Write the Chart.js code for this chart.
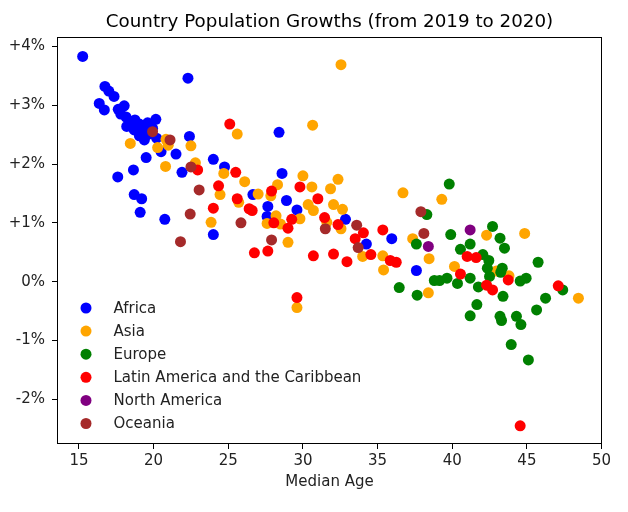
<!DOCTYPE html>
<html>
<head>
<meta charset="utf-8">
<script src="https://cdn.jsdelivr.net/npm/chart.js@4"></script>
<style>
  html, body { margin: 0; padding: 0; background: #fff; }
  #wrap { width: 628px; height: 512px; }
</style>
</head>
<body>
<div id="wrap"><canvas id="popChart" width="628" height="512"></canvas></div>
<script>
// median age vs population growth (%)
const regions = ["Africa", "Asia", "Europe", "Latin America and the Caribbean", "North America", "Oceania"];
const regionColors = ["#0000ff", "#ffa500", "#008000", "#ff0000", "#800080", "#a52a2a"];

const africa = [
  [15.25, 3.83], [22.3, 3.46], [16.74, 3.32], [17.0, 3.24], [17.35, 3.15], [16.36, 3.03], [16.7, 2.92],
  [17.63, 2.93], [18.03, 2.99], [17.8, 2.85], [18.15, 2.80], [18.5, 2.72], [18.2, 2.64], [18.75, 2.75],
  [19.05, 2.68], [19.6, 2.70], [20.15, 2.76], [19.93, 2.61], [18.7, 2.58], [19.26, 2.58], [19.6, 2.50],
  [19.05, 2.48], [19.38, 2.41], [20.2, 2.44], [20.5, 2.21], [21.5, 2.17], [19.5, 2.11], [22.4, 2.47],
  [24.0, 2.08], [24.75, 1.95], [21.9, 1.86], [17.6, 1.78], [18.65, 1.90], [18.7, 1.48], [19.2, 1.41],
  [19.1, 1.18], [20.75, 1.06], [26.65, 1.48], [24.0, 0.80], [28.4, 2.54], [28.6, 1.84], [27.65, 1.28],
  [28.9, 1.38], [29.6, 1.22], [27.6, 1.11], [32.85, 1.06], [34.25, 0.64], [35.95, 0.73], [37.6, 0.19]
];
const asia = [
  [32.55, 3.69], [30.65, 2.66], [25.6, 2.51], [18.44, 2.35], [20.27, 2.28], [20.83, 2.42], [20.98, 2.32],
  [22.5, 2.31], [20.8, 1.96], [22.8, 2.02], [24.7, 1.84], [26.1, 1.70], [24.45, 1.48], [25.7, 1.35],
  [23.85, 1.01], [30.0, 1.80], [32.35, 1.74], [28.3, 1.65], [30.6, 1.61], [31.85, 1.58], [27.85, 1.46],
  [27.0, 1.49], [30.35, 1.31], [30.7, 1.21], [32.05, 1.31], [32.65, 1.23], [28.2, 1.12], [29.8, 1.07],
  [27.6, 0.99], [28.5, 0.98], [29.0, 0.67], [31.6, 1.01], [32.55, 0.90], [34.0, 0.43], [35.35, 0.44],
  [35.4, 0.20], [29.6, -0.44], [36.7, 1.51], [39.3, 1.40], [37.35, 0.73], [42.3, 0.79], [44.85, 0.82],
  [38.45, 0.39], [40.15, 0.26], [42.95, 0.18], [43.8, 0.10], [48.45, -0.28], [38.4, -0.19]
];
const europe = [
  [39.8, 1.66], [38.3, 1.14], [37.6, 0.64], [39.9, 0.80], [42.7, 0.94], [43.2, 0.74], [43.5, 0.57],
  [41.2, 0.64], [40.55, 0.55], [42.05, 0.46], [42.45, 0.36], [42.35, 0.23], [43.35, 0.23], [43.25, 0.16],
  [42.5, 0.09], [38.8, 0.02], [39.15, 0.02], [39.65, 0.06], [40.35, -0.03], [41.2, 0.06], [41.75, -0.09],
  [44.55, 0.01], [44.95, 0.06], [45.75, 0.33], [47.4, -0.14], [36.45, -0.10], [37.65, -0.23], [43.4, -0.25],
  [46.25, -0.28], [45.65, -0.48], [41.65, -0.39], [41.2, -0.58], [43.2, -0.59], [43.3, -0.66], [44.3, -0.59],
  [44.6, -0.73], [43.95, -1.07], [45.1, -1.33]
];
const latinAmerica = [
  [25.1, 2.68], [22.95, 1.90], [25.5, 1.86], [24.35, 1.63], [25.6, 1.41], [26.4, 1.24], [24.0, 1.25],
  [27.9, 1.54], [29.8, 1.61], [26.6, 1.21], [31.0, 1.41], [28.05, 1.00], [29.25, 1.06], [31.45, 1.09],
  [32.35, 0.97], [35.35, 0.88], [29.0, 0.91], [26.75, 0.49], [27.65, 0.52], [30.7, 0.44], [32.05, 0.47],
  [32.95, 0.34], [34.05, 0.83], [33.5, 0.73], [34.55, 0.46], [35.85, 0.36], [36.25, 0.33], [29.6, -0.27],
  [41.0, 0.43], [41.6, 0.41], [40.55, 0.13], [43.75, 0.03], [42.3, -0.06], [42.7, -0.14], [47.1, -0.07],
  [44.55, -2.45]
];
const northAmerica = [[38.4, 0.60], [41.2, 0.88]];
const oceania = [
  [19.93, 2.55], [21.1, 2.41], [22.5, 1.95], [23.05, 1.56], [22.45, 1.15], [25.85, 1.00], [21.8, 0.68],
  [27.9, 0.71], [31.5, 0.90], [33.6, 0.96], [33.7, 0.58], [37.9, 1.19], [38.1, 0.82]
];

const xTicks = [15, 20, 25, 30, 35, 40, 45, 50];
const yTicks = [-2, -1, 0, 1, 2, 3, 4];

const seriesList = [africa, asia, europe, latinAmerica, northAmerica, oceania];
const chartTitle = "Country Population Growths (from 2019 to 2020)";
const FONT = "'DejaVu Sans', sans-serif";

// first dataset is drawn on top in chart.js, so reverse the order
const datasets = seriesList.map(function (pts, i) {
  return {
    label: regions[i],
    data: pts.map(function (p) { return { x: p[0], y: p[1] }; }),
    backgroundColor: regionColors[i],
    borderColor: regionColors[i],
    borderWidth: 0,
    pointRadius: 5.5,
    pointHoverRadius: 5.5,
    order: seriesList.length - i
  };
});

const frameAndLegend = {
  id: "frameAndLegend",
  afterDraw: function (chart) {
    const c = chart.ctx;
    const a = chart.chartArea;
    c.save();
    c.strokeStyle = "#000";
    c.lineWidth = 1;
    c.strokeRect(Math.round(a.left) + 0.5, Math.round(a.top) + 0.5,
      Math.round(a.right - a.left) - 1, Math.round(a.bottom - a.top) - 1);

    // title centred over the axes
    c.fillStyle = "#000";
    c.font = "18.3px " + FONT;
    c.textAlign = "center";
    c.textBaseline = "alphabetic";
    c.fillText(chartTitle, (a.left + a.right) / 2, 27);

    // legend, inside lower left
    c.font = "15px " + FONT;
    c.textBaseline = "middle";
    c.textAlign = "left";
    regions.forEach(function (name, i) {
      const y = a.top + 271 + i * 23.1;
      c.fillStyle = regionColors[i];
      c.beginPath();
      c.arc(a.left + 29, y, 5.5, 0, Math.PI * 2);
      c.fill();
      c.fillStyle = "#222";
      c.fillText(name, a.left + 56.5, y + 1);
    });
    c.restore();
  }
};

new Chart(document.getElementById("popChart").getContext("2d"), {
  type: "scatter",
  data: { datasets: datasets },
  options: {
    responsive: false,
    animation: false,
    layout: { padding: { left: 0, right: 26, top: 37, bottom: 0 } },
    plugins: {
      legend: { display: false },
      tooltip: { enabled: false },
      title: { display: false }
    },
    scales: {
      x: {
        type: "linear",
        min: 13.53,
        max: 50.03,
        afterBuildTicks: function (s) { s.ticks = xTicks.map(function (v) { return { value: v }; }); },
        afterFit: function (s) { s.height = 68; },
        grid: { display: true, drawOnChartArea: false, drawTicks: true, tickLength: 5, color: "#000" },
        border: { display: false },
        ticks: { color: "#222", font: { family: FONT, size: 15 }, padding: 3, maxRotation: 0 },
        title: {
          display: true,
          text: "Median Age",
          color: "#222",
          font: { family: FONT, size: 15 },
          padding: { top: 4, bottom: 21 }
        }
      },
      y: {
        type: "linear",
        min: -2.76,
        max: 4.16,
        afterBuildTicks: function (s) { s.ticks = yTicks.map(function (v) { return { value: v }; }); },
        afterFit: function (s) { s.width = 57; },
        grid: { display: true, drawOnChartArea: false, drawTicks: true, tickLength: 5, color: "#000" },
        border: { display: false },
        ticks: {
          color: "#222",
          font: { family: FONT, size: 15 },
          padding: 7,
          callback: function (v) { return (v > 0 ? "+" : "") + v + "%"; }
        }
      }
    }
  },
  plugins: [frameAndLegend]
});
</script>
</body>
</html>
